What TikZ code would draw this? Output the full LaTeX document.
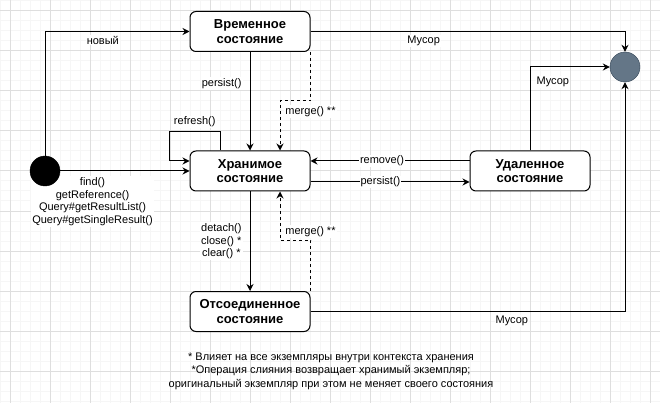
\documentclass[tikz,border=0pt]{standalone}
\usepackage{fontspec}
\setmainfont{Liberation Sans}
\usetikzlibrary{positioning, arrows.meta}
\definecolor{gridminor}{RGB}{246,246,246}
\definecolor{gridmajor}{RGB}{222,222,222}
\definecolor{finalfill}{RGB}{100,118,135}
\definecolor{finaldraw}{RGB}{49,67,84}
\pgfdeclarelayer{grid}
\pgfdeclarelayer{edges}
\pgfsetlayers{grid,edges,main}

\begin{document}
\begin{tikzpicture}[x=1pt, y=-1pt,
  stnode/.style={rectangle, draw=black, fill=white, line width=1pt,
                 rounded corners=6pt, minimum width=120pt, minimum height=40pt,
                 align=center, font=\fontsize{13}{14.5}\selectfont\bfseries},
  startnode/.style={circle, fill=black, draw=black, minimum size=30pt, inner sep=0pt},
  finalnode/.style={circle, fill=finalfill, draw=finaldraw, minimum size=30pt, inner sep=0pt},
  arr/.style={-{Stealth[length=7pt, width=7pt]}, line width=1pt, draw=black},
  darr/.style={arr, dashed},
  lbl/.style={font=\fontsize{11}{12.7}\selectfont, fill=white, inner sep=1pt, align=center}
]
\useasboundingbox (0,0) rectangle (660,403);

% Grid
\begin{pgfonlayer}{grid}
\foreach \gx in {0,10,...,660} \draw[gridminor, line width=1pt] (\gx,0) -- (\gx,403);
\foreach \gy in {1,11,...,401} \draw[gridminor, line width=1pt] (0,\gy) -- (660,\gy);
\foreach \gx in {10,50,...,650} \draw[gridmajor, line width=1pt] (\gx,0) -- (\gx,403);
\foreach \gy in {11,51,...,371} \draw[gridmajor, line width=1pt] (0,\gy) -- (660,\gy);
\end{pgfonlayer}

% States
\node[stnode] (temp)     at (250, 31.5) {Временное\\состояние};
\node[stnode] (managed)  at (250, 171)  {Хранимое\\состояние};
\node[stnode] (removed)  at (530, 171)  {Удаленное\\состояние};
\node[stnode] (detached) at (250, 311.5) {Отсоединенное\\состояние};

% Start / end
\node[startnode] (start) at (45, 171) {};
\node[finalnode] (final) at (625, 67) {};

% Arrows
\begin{pgfonlayer}{edges}
\draw[arr] (start.north) |- (temp.west)
    node[lbl, pos=0.7, below=3pt] {новый};
\draw[arr] (start.east) -- (managed.west)
    node[lbl, pos=0.25, below=5pt] {find()\\getReference()\\Query\#getResultList()\\Query\#getSingleResult()};
\draw[arr] (temp.south) -- (managed.north)
    node[lbl, pos=0.32, anchor=east, xshift=-7pt] {persist()};
\draw[darr] (temp.south east) -- ++(0,49)
    node[lbl, below=4pt] {merge() **} -| ([xshift=30pt]managed.north);
\draw[arr] ([xshift=-30pt]managed.north) -- ++(0,-19)
    -| ([xshift=-20pt, yshift=10pt]managed.west)
    node[lbl, pos=0.25, above=3pt] {refresh()} -- ([yshift=10pt]managed.west);
\draw[arr] ([yshift=10pt]removed.west) -- ([yshift=10pt]managed.east)
    node[lbl, pos=0.55] {remove()};
\draw[arr] ([yshift=-11pt]managed.east) -- ([yshift=-11pt]removed.west)
    node[lbl, pos=0.44] {persist()};
\draw[arr] (temp.east) -| (final.north)
    node[lbl, pos=0.18, below=3pt] {Мусор};
\draw[arr] (removed.north) |- (final.west)
    node[lbl, pos=0.41, anchor=west, xshift=5pt] {Мусор};
\draw[arr] (managed.south) -- (detached.north)
    node[lbl, midway, anchor=east, xshift=-7pt] {detach()\\close() *\\clear() *};
\draw[darr] (detached.north east) -- ++(0,-51)
    node[lbl, above=2pt] {merge() **} -| ([xshift=30pt]managed.south);
\draw[arr] (detached.east) -| (final.south)
    node[lbl, pos=0.32, below=3pt] {Мусор};
\end{pgfonlayer}

% Note
\node[font=\fontsize{11}{13.5}\selectfont, align=center] (note) at (331, 371)
    {* Влияет на все экземпляры внутри контекста хранения\\
     *Операция слияния возвращает хранимый экземпляр;\\
     оригинальный экземпляр при этом не меняет своего состояния};

\end{tikzpicture}
\end{document}
